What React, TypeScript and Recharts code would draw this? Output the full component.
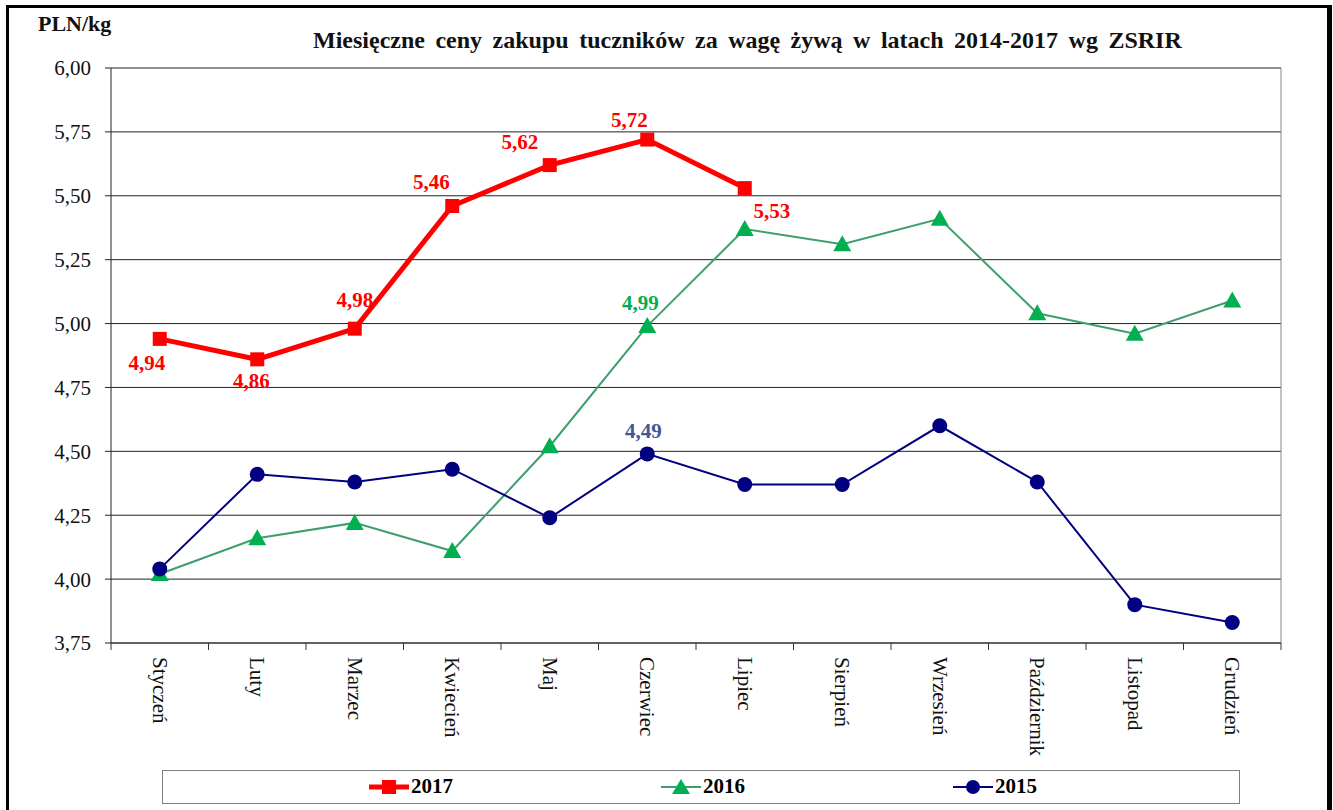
import React from "react";
import { LineChart, Line, XAxis, YAxis, CartesianGrid, ReferenceLine } from "recharts";

const months = [
  "Styczeń", "Luty", "Marzec", "Kwiecień", "Maj", "Czerwiec",
  "Lipiec", "Sierpień", "Wrzesień", "Październik", "Listopad", "Grudzień",
];
const p2017 = [4.94, 4.86, 4.98, 5.46, 5.62, 5.72, 5.53];
const p2016 = [4.02, 4.16, 4.22, 4.11, 4.52, 4.99, 5.37, 5.31, 5.41, 5.04, 4.96, 5.09];
const p2015 = [4.04, 4.41, 4.38, 4.43, 4.24, 4.49, 4.37, 4.37, 4.60, 4.38, 3.90, 3.83];
const yTicks = [3.75, 4.0, 4.25, 4.5, 4.75, 5.0, 5.25, 5.5, 5.75, 6.0];

const data = months.map((m, i) => ({ i, m, y2017: p2017[i], y2016: p2016[i], y2015: p2015[i] }));
// integer ticks carry month names, half ticks are the category separators
const xTicks = Array.from({ length: 25 }, (_, k) => -0.5 + k * 0.5);

const FONT = '"Liberation Serif", "Times New Roman", serif';
const RED = "#FF0000";
const GREEN_LINE = "#3C9F6C";
const GREEN = "#00B050";
const NAVY = "#000080";

// label offsets (px) relative to the point, per series/index
const LBL_2017: Record<number, [number, number]> = {
  0: [-13, 24], 1: [-6, 22], 2: [0, -29], 3: [-21, -24], 4: [-30, -23], 5: [-18, -20], 6: [27, 23],
};
const LBL_2016: Record<number, [number, number]> = { 5: [-7, -23] };
const LBL_2015: Record<number, [number, number]> = { 5: [-4, -23] };

const fmt = (v: number) => v.toFixed(2).replace(".", ",");

const labelFor = (offs: Record<number, [number, number]>, color: string) => (p: any) => {
  const o = offs[p.index];
  if (!o || p.value == null) return <g key={`l${p.index}`} />;
  return (
    <text key={`l${p.index}`} x={p.x + o[0]} y={p.y + o[1]} textAnchor="middle" dominantBaseline="central"
      fontFamily={FONT} fontSize={21} fontWeight="bold" fill={color}>
      {fmt(p.value)}
    </text>
  );
};

const squareDot = (p: any) =>
  p.value == null || p.cy == null ? <g key={`s${p.index}`} /> :
    <rect key={`s${p.index}`} x={p.cx - 7} y={p.cy - 7} width={14} height={14} fill={RED} />;

const triDot = (p: any) =>
  p.value == null || p.cy == null ? <g key={`t${p.index}`} /> :
    <polygon key={`t${p.index}`} fill={GREEN}
      points={`${p.cx},${p.cy - 9} ${p.cx - 9},${p.cy + 7} ${p.cx + 9},${p.cy + 7}`} />;

const circleDot = (p: any) =>
  p.value == null || p.cy == null ? <g key={`c${p.index}`} /> :
    <circle key={`c${p.index}`} cx={p.cx} cy={p.cy} r={7.5} fill={NAVY} />;

const MonthTick = ({ x, y, payload }: any) => {
  const v = payload.value;
  if (!Number.isInteger(v)) return <line x1={x} x2={x} y1={y} y2={y + 7} stroke="#333" />;
  const ty = y + 14;
  return (
    <text x={x} y={ty} transform={`rotate(90 ${x} ${ty})`} textAnchor="start" dominantBaseline="central"
      fontFamily={FONT} fontSize={21} fill="#111">
      {months[v]}
    </text>
  );
};

const LegendItem = ({ left, kind, color, lineColor, text }: any) => (
  <div style={{ position: "absolute", left, top: 0, height: 31, display: "flex", alignItems: "center" }}>
    <svg width={40} height={20}>
      <line x1={0} x2={40} y1={10} y2={10} stroke={lineColor} strokeWidth={kind === "sq" ? 5 : 2} />
      {kind === "sq" && <rect x={13} y={3} width={14} height={14} fill={color} />}
      {kind === "tri" && <polygon points="20,2 11,17 29,17" fill={color} />}
      {kind === "circ" && <circle cx={20} cy={10} r={7} fill={color} />}
    </svg>
    <span style={{ fontFamily: FONT, fontWeight: "bold", fontSize: 21, marginLeft: 2, color: "#000" }}>{text}</span>
  </div>
);

export default function App() {
  return (
    <div style={{ position: "absolute", left: 0, top: 0, width: 1333, height: 810, overflow: "hidden", background: "#fff" }}>
      <div style={{
        position: "absolute", left: 6, top: 5, width: 1326, height: 900, boxSizing: "border-box",
        borderLeft: "3px solid #000", borderTop: "3px solid #000", borderRight: "5px solid #000",
      }} />
      <div style={{ position: "absolute", left: 38, top: 11, fontFamily: FONT, fontWeight: "bold", fontSize: 22, color: "#111" }}>
        PLN/kg
      </div>
      <div style={{
        position: "absolute", left: 313, top: 27, fontFamily: FONT, fontWeight: "bold", fontSize: 24,
        whiteSpace: "nowrap", color: "#111", wordSpacing: 4.5,
      }}>
        Miesięczne ceny zakupu tuczników za wagę żywą w latach 2014-2017 wg ZSRIR
      </div>
      <div style={{ position: "absolute", left: 0, top: 0 }}>
        <LineChart width={1333} height={810} data={data} margin={{ top: 68, right: 52, bottom: 47, left: 51 }}>
          <CartesianGrid vertical={false} stroke="#222" />
          <XAxis dataKey="i" type="number" domain={[-0.5, 11.5]} ticks={xTicks} interval={0}
            height={120} tickLine={false} tickSize={0} tickMargin={0} tick={<MonthTick />}
            axisLine={{ stroke: "#333" }} allowDecimals />
          <YAxis type="number" domain={[3.75, 6]} ticks={yTicks} interval={0} width={60}
            tickFormatter={fmt} tickSize={6} tickMargin={14}
            tick={{ fontFamily: FONT, fontSize: 21, fill: "#111" }}
            axisLine={{ stroke: "#222" }} tickLine={{ stroke: "#222" }} />
          <ReferenceLine x={11.5} stroke="#888" />
          <Line type="linear" dataKey="y2016" stroke={GREEN_LINE} strokeWidth={2} dot={triDot}
            activeDot={false} label={labelFor(LBL_2016, GREEN)} isAnimationActive={false} />
          <Line type="linear" dataKey="y2015" stroke={NAVY} strokeWidth={2} dot={circleDot}
            activeDot={false} label={labelFor(LBL_2015, "#3C5A96")} isAnimationActive={false} />
          <Line type="linear" dataKey="y2017" stroke={RED} strokeWidth={5} dot={squareDot}
            activeDot={false} label={labelFor(LBL_2017, RED)} isAnimationActive={false} />
        </LineChart>
      </div>
      <div style={{
        position: "absolute", left: 162, top: 770, width: 1078, height: 34, boxSizing: "border-box",
        border: "1.5px solid #808080",
      }}>
        <LegendItem left={206} kind="sq" color={RED} lineColor={RED} text="2017" />
        <LegendItem left={498} kind="tri" color={GREEN} lineColor={GREEN_LINE} text="2016" />
        <LegendItem left={790} kind="circ" color={NAVY} lineColor={NAVY} text="2015" />
      </div>
    </div>
  );
}
